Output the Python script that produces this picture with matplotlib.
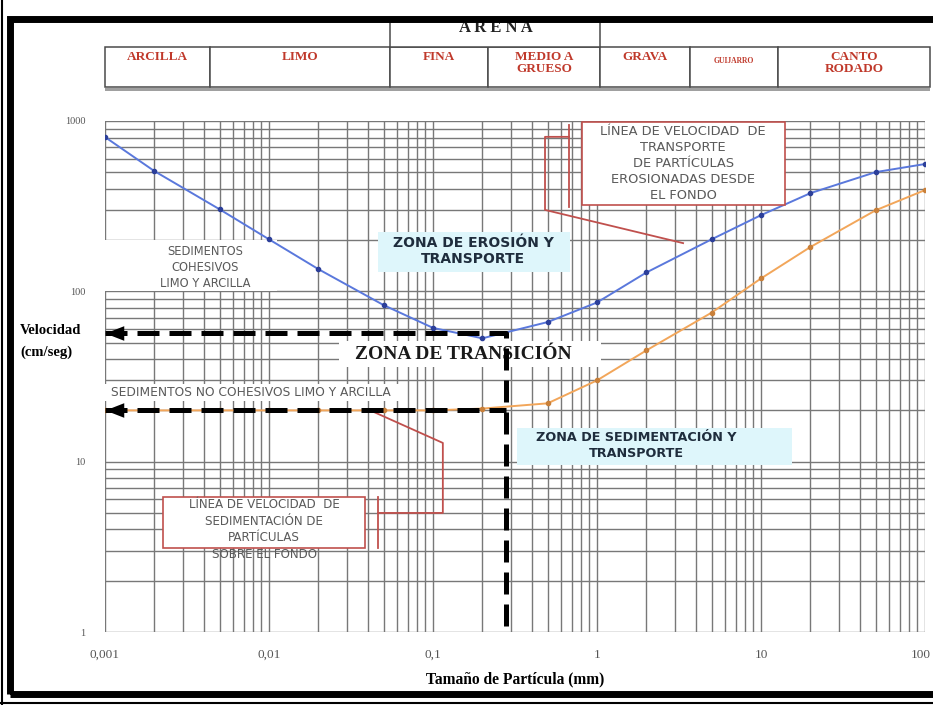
import matplotlib

matplotlib.use("Agg")

import matplotlib.pyplot as plt
from matplotlib.lines import Line2D
from matplotlib.patches import Rectangle
from matplotlib.path import Path
from matplotlib.ticker import FixedLocator, LogLocator, NullFormatter
from matplotlib.transforms import ScaledTranslation

# grain size (mm) at which both curves are sampled
size_mm = [0.001, 0.002, 0.005, 0.01, 0.02, 0.05, 0.1, 0.2, 0.5, 1, 2, 5, 10, 20, 50, 100]
# critical velocity for erosion and transport (cm/s)
erosion_v = [805, 508, 303, 202, 135, 83, 61, 53, 66, 86, 129, 202, 280, 377, 501, 559]
# settling velocity (cm/s)
settling_v = [20, 20, 20, 20, 20, 20, 20, 20.5, 22, 30, 45, 75, 119, 182, 299, 393]

x_ticks = [0.001, 0.01, 0.1, 1, 10, 100]
x_tick_labels = ["0,001", "0,01", "0,1", "1", "10", "100"]
y_ticks = [1, 10, 100, 1000]
y_tick_labels = ["1", "10", "100", "1000"]

# reading guides: grain size and the two velocities they point at
guide_size = 0.28
guide_v_upper = 57
guide_v_lower = 20

# grain-size classes shown in the header table
classes = ["ARCILLA", "LIMO", "FINA", "MEDIO A\nGRUESO", "GRAVA", "GUIJARRO", "CANTO\nRODADO"]
class_font = [9.5, 9.5, 9.5, 9.5, 9.5, 5.5, 9.5]

W, H = 933, 705
SERIF = "Liberation Serif"
SANS = "DejaVu Sans"
RED = "#c0392b"
CYAN = "#def6fb"
BOX_RED = "#c0504d"
NOTE = "#5a5a5a"

fig = plt.figure(figsize=(W / 100, H / 100), dpi=100)
fig.patch.set_facecolor("white")
ax = fig.add_axes([105 / W, 1 - 632 / H, 820 / W, 511 / H])

ax.set_xscale("log")
ax.set_yscale("log")
ax.set_xlim(0.001, 100)
ax.set_ylim(1, 1000)

for axis in (ax.xaxis, ax.yaxis):
    axis.set_minor_locator(LogLocator(base=10, subs=range(2, 10)))
    axis.set_minor_formatter(NullFormatter())
ax.xaxis.set_major_locator(FixedLocator(x_ticks))
ax.yaxis.set_major_locator(FixedLocator(y_ticks))
ax.set_xticklabels(x_tick_labels, family=SERIF, fontsize=9.5, color="#555555")
ax.set_yticklabels(y_tick_labels, family=SERIF, fontsize=7.5, color="#555555")
ax.tick_params(which="both", length=0)
ax.tick_params(axis="x", pad=12)
ax.tick_params(axis="y", pad=14)
ax.grid(which="both", color="#787878", lw=1.0)
for s in ax.spines.values():
    s.set_visible(False)

# last x label sits against the right edge of the figure
last = ax.get_xticklabels()[-1]
last.set_horizontalalignment("right")
last.set_transform(last.get_transform() + ScaledTranslation(6 / 100, 0, fig.dpi_scale_trans))

ax.set_xlabel("Tamaño de Partícula (mm)", family=SERIF, fontsize=11.2,
              fontweight="bold", labelpad=8)

# curves
ax.plot(size_mm, erosion_v, color="#5a78dc", lw=1.4, zorder=4,
        marker="o", ms=3, mfc="#2c3f9a", mec="#2c3f9a")
ax.plot(size_mm, settling_v, color="#f2a65a", lw=1.4, zorder=4,
        marker="o", ms=3, mfc="#c9803a", mec="#c9803a")

# dashed reading guides with arrow heads on the velocity axis
dash = dict(color="black", lw=3.6, dashes=(4.4, 2.0), solid_capstyle="butt",
            dash_capstyle="butt", zorder=6, clip_on=False)
ax.plot([0.001, guide_size, guide_size], [guide_v_upper, guide_v_upper, 1], **dash)
ax.plot([0.001, guide_size], [guide_v_lower, guide_v_lower], **dash)
head = Path([(0, 0), (1, -0.39), (1, 0.39), (0, 0)],
            [Path.MOVETO, Path.LINETO, Path.LINETO, Path.CLOSEPOLY])
for v in (guide_v_upper, guide_v_lower):
    ax.plot([0.001], [v], marker=head, ms=27, color="black", mew=0,
            zorder=7, clip_on=False)


def box(x0, y0, x1, y1, fc="white", ec="none", lw=1.0, z=3):
    ax.add_patch(Rectangle((x0, y0), x1 - x0, y1 - y0, transform=ax.transAxes,
                           fc=fc, ec=ec, lw=lw, zorder=z))


def leader(points, z=5):
    xs, ys = zip(*points)
    ax.add_line(Line2D(xs, ys, transform=ax.transAxes, color=BOX_RED, lw=1.3, zorder=z))


# cohesive sediments note
box(0.0, 0.667, 0.21, 0.767)
ax.text(0.122, 0.713, "SEDIMENTOS\nCOHESIVOS\nLIMO Y ARCILLA", transform=ax.transAxes,
        ha="center", va="center", family=SANS, fontsize=8.3, color=NOTE,
        linespacing=1.3, zorder=5)

# erosion zone
box(0.333, 0.705, 0.567, 0.783, fc=CYAN)
ax.text(0.449, 0.746, "ZONA DE EROSIÓN Y\nTRANSPORTE", transform=ax.transAxes,
        ha="center", va="center", family=SANS, fontsize=10, fontweight="bold",
        color="#1f2d3d", linespacing=1.2, zorder=5)

# sedimentation zone
box(0.502, 0.327, 0.838, 0.399, fc=CYAN)
ax.text(0.6476, 0.365, "ZONA DE SEDIMENTACIÓN Y\nTRANSPORTE", transform=ax.transAxes,
        ha="center", va="center", family=SANS, fontsize=9.2, fontweight="bold",
        color="#1f2d3d", linespacing=1.25, zorder=5)

# transition zone
box(0.285, 0.518, 0.605, 0.57)
ax.text(0.437, 0.543, "ZONA DE TRANSICIÓN", transform=ax.transAxes,
        ha="center", va="center", family=SERIF, fontsize=14, fontweight="bold",
        color="#1a1a1a", zorder=5)

# non-cohesive sediments note
box(0.0, 0.452, 0.365, 0.486)
ax.text(0.007, 0.468, "SEDIMENTOS NO COHESIVOS LIMO Y ARCILLA", transform=ax.transAxes,
        ha="left", va="center", family=SANS, fontsize=8.8, color=NOTE, zorder=5)

# callout: erosion/transport line
box(0.5817, 0.8356, 0.8293, 0.998, ec=BOX_RED, lw=1.2, z=5)
ax.text(0.705, 0.992, "LÍNEA DE VELOCIDAD  DE\nTRANSPORTE\nDE PARTÍCULAS\nEROSIONADAS DESDE\nEL FONDO",
        transform=ax.transAxes, ha="center", va="top", family=SANS, fontsize=9.4,
        color=NOTE, linespacing=1.3, zorder=6)
leader([(0.566, 0.992), (0.566, 0.832)])
leader([(0.566, 0.969), (0.5366, 0.969), (0.5366, 0.826), (0.705, 0.761)])

# callout: settling line, last line runs past the box
box(0.0707, 0.1644, 0.317, 0.264, ec=BOX_RED, lw=1.2, z=5)
ax.text(0.194, 0.262, "LÍNEA DE VELOCIDAD  DE\nSEDIMENTACIÓN DE\nPARTÍCULAS\nSOBRE EL FONDO",
        transform=ax.transAxes, ha="center", va="top", family=SANS, fontsize=8.6,
        color=NOTE, linespacing=1.35, zorder=6)
leader([(0.323, 0.434), (0.412, 0.370), (0.412, 0.233), (0.333, 0.233)])
leader([(0.333, 0.264), (0.333, 0.164)])

# velocity label beside the guides
fig.text(20 / W, 1 - 331 / H, "Velocidad", family=SERIF, fontsize=10.5,
         fontweight="bold", va="center", ha="left")
fig.text(20 / W, 1 - 352 / H, "(cm/seg)", family=SERIF, fontsize=10.5,
         fontweight="bold", va="center", ha="left")

# header table with the grain-size classes
edges = [105, 210, 390, 488, 600, 690, 778, 930]
row_top, row_bot = 1 - 47 / H, 1 - 87 / H
for i, name in enumerate(classes):
    x0, x1 = edges[i] / W, edges[i + 1] / W
    fig.add_artist(Rectangle((x0, row_bot), x1 - x0, row_top - row_bot,
                             transform=fig.transFigure, fc="white", ec="#4a4a4a", lw=1.1))
    fig.text((x0 + x1) / 2, 1 - 51 / H if class_font[i] > 6 else 1 - 57 / H, name,
             ha="center", va="top", family=SERIF, fontsize=class_font[i],
             fontweight="bold", color=RED, linespacing=1.05)
fig.add_artist(Rectangle((390 / W, row_top), 210 / W, 29 / H, transform=fig.transFigure,
                         fc="white", ec="#4a4a4a", lw=1.1))
fig.text(496 / W, 1 - 28 / H, "A R E N A", ha="center", va="center", family=SERIF,
         fontsize=12, fontweight="bold", color="#222222")
fig.add_artist(Rectangle((105 / W, 1 - 91 / H), 825 / W, 3 / H, transform=fig.transFigure,
                         fc="#a0a0a0", ec="none"))

# outer frame
fig.add_artist(Rectangle((10 / W, 1 - 694 / H), 940 / W, 675 / H, transform=fig.transFigure,
                         fc="none", ec="black", lw=5, zorder=10))
fig.add_artist(Line2D([2 / W, 2 / W], [0, 1], transform=fig.transFigure, color="black", lw=1.5))
fig.add_artist(Line2D([0, 1], [1 - 703 / H, 1 - 703 / H], transform=fig.transFigure,
                      color="black", lw=1.5))

fig.savefig("out.png", dpi=100)
